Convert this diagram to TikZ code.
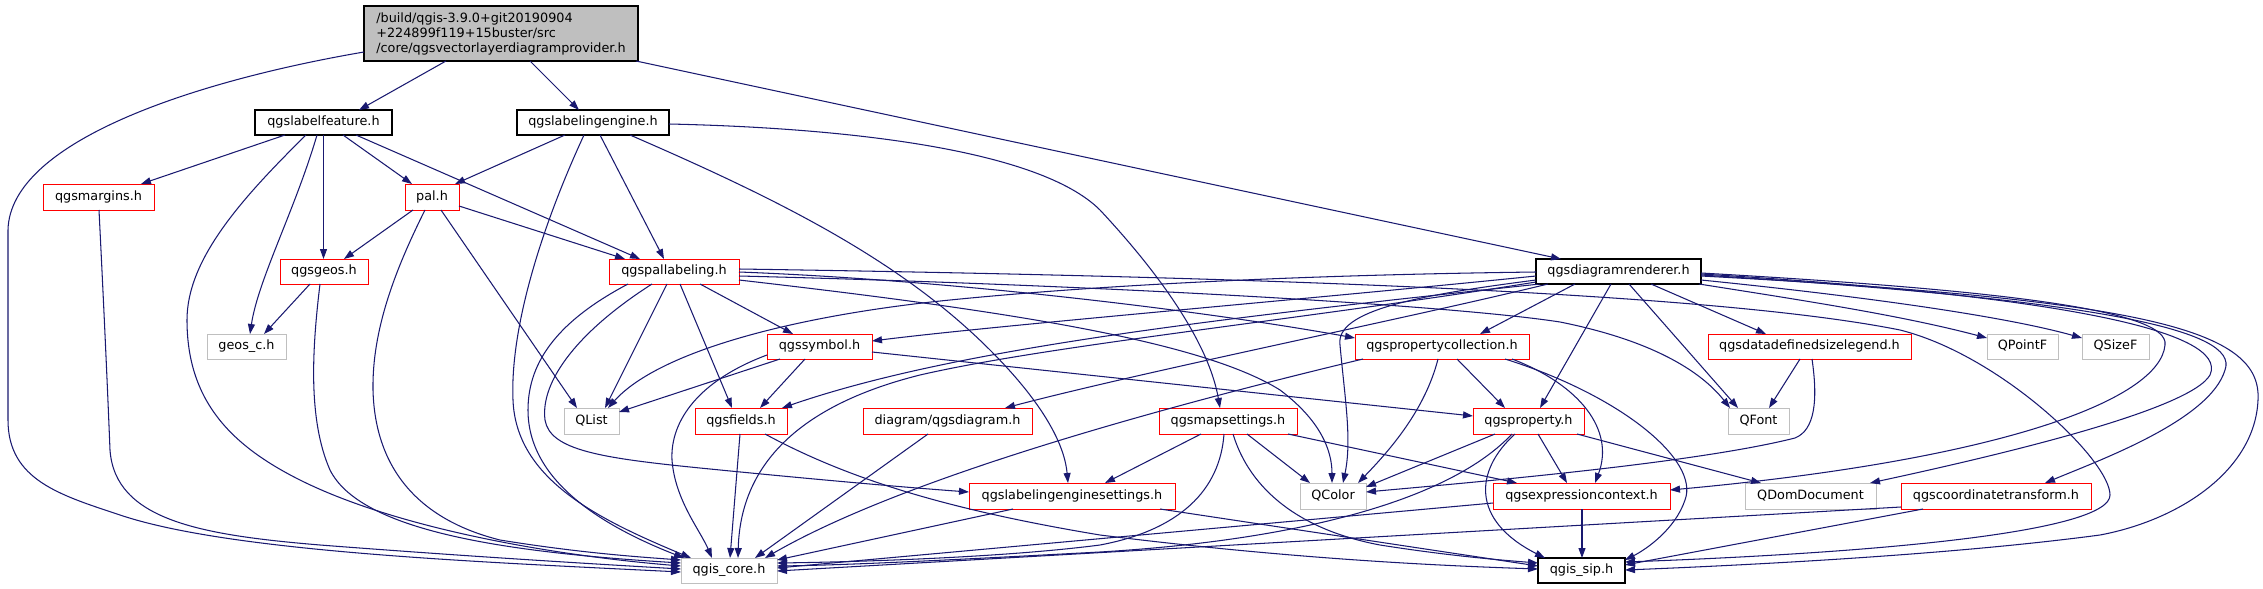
\documentclass[tikz,border=0pt]{standalone}
\usepackage{fontspec}
\setmainfont{DejaVu Sans}
\usetikzlibrary{arrows.meta,calc}
\definecolor{edgec}{HTML}{191970}
\definecolor{grayb}{HTML}{BFBFBF}
\definecolor{redb}{HTML}{FF0000}
\tikzset{
  nb/.style={draw, line width=1pt, anchor=north west, inner sep=0pt, outer sep=0pt,
    font=\fontsize{12.8}{15}\selectfont},
  sl/.style={nb, text height=9.6pt, text depth=2.9pt},
  blk/.style={sl, draw=black, line width=1.4pt},
  redn/.style={sl, draw=redb},
  gry/.style={sl, draw=grayb},
  e/.style={draw=edgec, line width=1.05pt, -{Triangle[length=10pt,width=7pt]}},
}
\begin{document}
\begin{tikzpicture}[x=1pt,y=-1pt]
\fill[white] (0,0) rectangle (2263,589);
\useasboundingbox (0,0) rectangle (2263,589);
% nodes
\node[nb, draw=black, line width=1.4pt, fill=grayb, minimum width=274pt, minimum height=55pt, align=left] (root) at (364,6)
  {/build/qgis-3.9.0+git20190904\\+224899f119+15buster/src\\/core/qgsvectorlayerdiagramprovider.h};
\node[blk, minimum width=137pt, minimum height=25pt] (lf) at (255,110) {qgslabelfeature.h};
\node[blk, minimum width=152pt, minimum height=25pt] (le) at (517,110) {qgslabelingengine.h};
\node[redn, minimum width=111pt, minimum height=26pt] (mg) at (43,184) {qgsmargins.h};
\node[redn, minimum width=54pt, minimum height=26pt] (pal) at (405,184) {pal.h};
\node[redn, minimum width=88pt, minimum height=25pt] (geos) at (280,259) {qgsgeos.h};
\node[redn, minimum width=130pt, minimum height=25pt] (pl) at (609,259) {qgspallabeling.h};
\node[blk, minimum width=165pt, minimum height=25pt] (dr) at (1536,259) {qgsdiagramrenderer.h};
\node[gry, minimum width=79pt, minimum height=25pt] (gc) at (207,334) {geos\_c.h};
\node[redn, minimum width=105pt, minimum height=25pt] (sym) at (767,334) {qgssymbol.h};
\node[redn, minimum width=174pt, minimum height=25pt] (pc) at (1355,334) {qgspropertycollection.h};
\node[redn, minimum width=203pt, minimum height=25pt] (dl) at (1708,334) {qgsdatadefinedsizelegend.h};
\node[gry, minimum width=71pt, minimum height=25pt] (qpf) at (1987,334) {QPointF};
\node[gry, minimum width=67pt, minimum height=25pt] (qsf) at (2082,334) {QSizeF};
\node[gry, minimum width=55pt, minimum height=26pt] (ql) at (564,408) {QList};
\node[redn, minimum width=92pt, minimum height=26pt] (fld) at (695,408) {qgsfields.h};
\node[redn, minimum width=169pt, minimum height=26pt] (dg) at (863,408) {diagram/qgsdiagram.h};
\node[redn, minimum width=138pt, minimum height=26pt] (ms) at (1159,408) {qgsmapsettings.h};
\node[redn, minimum width=111pt, minimum height=26pt] (pr) at (1473,408) {qgsproperty.h};
\node[gry, minimum width=61pt, minimum height=26pt] (qf) at (1728,408) {QFont};
\node[redn, minimum width=206pt, minimum height=26pt] (les) at (969,483) {qgslabelingenginesettings.h};
\node[gry, minimum width=66pt, minimum height=26pt] (qc) at (1300,483) {QColor};
\node[redn, minimum width=177pt, minimum height=26pt] (ec) at (1493,483) {qgsexpressioncontext.h};
\node[gry, minimum width=131pt, minimum height=26pt] (qdd) at (1745,483) {QDomDocument};
\node[redn, minimum width=190pt, minimum height=26pt] (ct) at (1901,483) {qgscoordinatetransform.h};
\node[gry, minimum width=96pt, minimum height=25pt] (core) at (681,558) {qgis\_core.h};
\node[blk, minimum width=87pt, minimum height=25pt] (sip) at (1538,558) {qgis\_sip.h};
% edges
\draw[e] ([shift={(0,46)}]root.north west) .. controls (200,80) and (10,140) .. (8,230) -- (8,420) .. controls (8,480) and (60,495) .. (120,515) .. controls (230,552) and (480,562) .. ([shift={(0,14)}]core.north west);
\draw[e] ([shift={(82,55)}]root.north west) -- ([shift={(104,0)}]lf.north west);
\draw[e] ([shift={(166,55)}]root.north west) -- ([shift={(62,0)}]le.north west);
\draw[e] ([shift={(272,55)}]root.north west) -- ([shift={(25,0)}]dr.north west);
\draw[e] ([shift={(30,25)}]lf.north west) -- ([shift={(98,0)}]mg.north west);
\draw[e] ([shift={(51,25)}]lf.north west) .. controls (240,200) and (187,260) .. (187,320) .. controls (187,400) and (230,445) .. (300,480) .. controls (400,530) and (560,556) .. ([shift={(0,8)}]core.north west);
\draw[e] ([shift={(62,25)}]lf.north west) .. controls (295,210) and (258,280) .. ([shift={(43,0)}]gc.north west);
\draw[e] ([shift={(68.5,25)}]lf.north west) -- ([shift={(43.5,0)}]geos.north west);
\draw[e] ([shift={(88,25)}]lf.north west) -- ([shift={(7,0)}]pal.north west);
\draw[e] ([shift={(101,25)}]lf.north west) -- ([shift={(31,0)}]pl.north west);
\draw[e] ([shift={(48,25)}]le.north west) -- ([shift={(50,0)}]pal.north west);
\draw[e] ([shift={(67,25)}]le.north west) .. controls (540,230) and (510,330) .. (513,400) .. controls (516,480) and (600,520) .. ([shift={(10,0)}]core.north west);
\draw[e] ([shift={(83,25)}]le.north west) -- ([shift={(55,0)}]pl.north west);
\draw[e] ([shift={(113,25)}]le.north west) .. controls (780,200) and (900,260) .. (990,350) .. controls (1050,410) and (1065,450) .. ([shift={(99,0)}]les.north west);
\draw[e] ([shift={(152,14)}]le.north west) .. controls (850,128) and (1040,150) .. (1100,210) .. controls (1170,285) and (1210,350) .. ([shift={(61,0)}]ms.north west);
\draw[e] ([shift={(56,26)}]mg.north west) .. controls (105,330) and (108,400) .. (110,450) .. controls (115,520) and (200,535) .. (320,545) .. controls (450,555) and (560,562) .. ([shift={(0,11)}]core.north west);
\draw[e] ([shift={(8,26)}]pal.north west) -- ([shift={(64,0)}]geos.north west);
\draw[e] ([shift={(20,26)}]pal.north west) .. controls (395,270) and (372,330) .. (373,390) .. controls (375,470) and (420,520) .. (500,540) .. controls (580,553) and (640,557) .. ([shift={(0,2)}]core.north west);
\draw[e] ([shift={(36,26)}]pal.north west) -- ([shift={(13,0)}]ql.north west);
\draw[e] ([shift={(54,22)}]pal.north west) -- ([shift={(16,0)}]pl.north west);
\draw[e] ([shift={(30,25)}]geos.north west) -- ([shift={(57,0)}]gc.north west);
\draw[e] ([shift={(40,25)}]geos.north west) .. controls (312,350) and (308,420) .. (330,470) .. controls (360,530) and (500,552) .. ([shift={(0,5)}]core.north west);
\draw[e] ([shift={(19,25)}]pl.north west) .. controls (560,320) and (528,360) .. (528,410) .. controls (528,480) and (600,525) .. ([shift={(3,0)}]core.north west);
\draw[e] ([shift={(43,25)}]pl.north west) .. controls (580,330) and (540,380) .. (545,420) .. controls (550,450) and (600,458) .. (700,468) .. controls (800,478) and (900,487) .. ([shift={(0,9)}]les.north west);
\draw[e] ([shift={(58,25)}]pl.north west) -- ([shift={(41,0)}]ql.north west);
\draw[e] ([shift={(71,25)}]pl.north west) -- ([shift={(37,0)}]fld.north west);
\draw[e] ([shift={(91,25)}]pl.north west) -- ([shift={(26,0)}]sym.north west);
\draw[e] ([shift={(130,13)}]pl.north west) .. controls (950,280) and (1200,310) .. ([shift={(0,4)}]pc.north west);
\draw[e] ([shift={(130,17)}]pl.north west) .. controls (1100,285) and (1450,305) .. (1560,322) .. controls (1650,340) and (1700,370) .. ([shift={(2,0)}]qf.north west);
\draw[e] ([shift={(130,10)}]pl.north west) .. controls (1200,276) and (1700,290) .. (1900,330) .. controls (2000,355) and (2110,460) .. (2110,495) .. controls (2110,530) and (1900,552) .. ([shift={(87,4)}]sip.north west);
\draw[e] ([shift={(130,21)}]pl.north west) .. controls (1000,310) and (1200,340) .. (1280,390) .. controls (1320,420) and (1332,450) .. ([shift={(32,0)}]qc.north west);
\draw[e] ([shift={(0,13)}]dr.north west) .. controls (1300,275) and (1100,285) .. (950,300) .. controls (800,315) and (660,350) .. ([shift={(44,0)}]ql.north west);
\draw[e] ([shift={(0,17)}]dr.north west) .. controls (1300,300) and (1000,325) .. ([shift={(105,7)}]sym.north west);
\draw[e] ([shift={(4,25)}]dr.north west) .. controls (1200,320) and (950,350) .. ([shift={(87,0)}]fld.north west);
\draw[e] ([shift={(0,23)}]dr.north west) .. controls (1300,320) and (1050,345) .. (920,375) .. controls (780,410) and (740,480) .. ([shift={(57,0)}]core.north west);
\draw[e] ([shift={(12,25)}]dr.north west) .. controls (1400,320) and (1150,370) .. ([shift={(142,0)}]dg.north west);
\draw[e] ([shift={(0,21)}]dr.north west) .. controls (1420,295) and (1335,310) .. (1340,345) .. controls (1345,400) and (1352,440) .. ([shift={(43,0)}]qc.north west);
\draw[e] ([shift={(39,25)}]dr.north west) -- ([shift={(125,0)}]pc.north west);
\draw[e] ([shift={(75,25)}]dr.north west) -- ([shift={(67,0)}]pr.north west);
\draw[e] ([shift={(93,25)}]dr.north west) -- ([shift={(10,0)}]qf.north west);
\draw[e] ([shift={(115,25)}]dr.north west) -- ([shift={(58,0)}]dl.north west);
\draw[e] ([shift={(163,25)}]dr.north west) .. controls (1800,300) and (1900,315) .. ([shift={(0,4)}]qpf.north west);
\draw[e] ([shift={(165,21)}]dr.north west) .. controls (1850,295) and (2000,315) .. ([shift={(0,4)}]qsf.north west);
\draw[e] ([shift={(165,14)}]dr.north west) .. controls (2000,290) and (2170,310) .. (2165,345) .. controls (2160,400) and (2000,460) .. ([shift={(177,7)}]ec.north west);
\draw[e] ([shift={(165,15)}]dr.north west) .. controls (2050,295) and (2230,330) .. (2210,375) .. controls (2190,410) and (2000,455) .. ([shift={(125,0)}]qdd.north west);
\draw[e] ([shift={(165,16)}]dr.north west) .. controls (2100,300) and (2240,330) .. (2225,370) .. controls (2210,420) and (2100,460) .. ([shift={(144,0)}]ct.north west);
\draw[e] ([shift={(165,17)}]dr.north west) .. controls (2150,300) and (2262,330) .. (2258,400) .. controls (2255,470) and (2180,520) .. (2100,535) .. controls (1950,555) and (1750,565) .. ([shift={(87,12)}]sip.north west);
\draw[e] ([shift={(13,25)}]sym.north west) -- ([shift={(55,4)}]ql.north west);
\draw[e] ([shift={(38,25)}]sym.north west) -- ([shift={(65,0)}]fld.north west);
\draw[e] ([shift={(0,21)}]sym.north west) .. controls (700,380) and (670,420) .. (672,460) .. controls (675,500) and (700,530) .. ([shift={(31,0)}]core.north west);
\draw[e] ([shift={(105,18)}]sym.north west) -- ([shift={(0,8)}]pr.north west);
\draw[e] ([shift={(45,26)}]fld.north west) -- ([shift={(49,0)}]core.north west);
\draw[e] ([shift={(70,26)}]fld.north west) .. controls (850,480) and (950,510) .. (1100,535) .. controls (1300,560) and (1450,566) .. ([shift={(0,11)}]sip.north west);
\draw[e] ([shift={(65,26)}]dg.north west) -- ([shift={(74,0)}]core.north west);
\draw[e] ([shift={(42,26)}]ms.north west) -- ([shift={(136,0)}]les.north west);
\draw[e] ([shift={(65,26)}]ms.north west) .. controls (1220,490) and (1180,530) .. (1100,545) .. controls (1000,558) and (850,562) .. ([shift={(96,5)}]core.north west);
\draw[e] ([shift={(88,26)}]ms.north west) -- ([shift={(10,0)}]qc.north west);
\draw[e] ([shift={(74,26)}]ms.north west) .. controls (1250,490) and (1300,530) .. (1380,545) .. controls (1450,556) and (1500,560) .. ([shift={(0,5)}]sip.north west);
\draw[e] ([shift={(129,26)}]ms.north west) -- ([shift={(24,0)}]ec.north west);
\draw[e] ([shift={(8,25)}]pc.north west) .. controls (1150,410) and (900,480) .. ([shift={(84,0)}]core.north west);
\draw[e] ([shift={(83,25)}]pc.north west) .. controls (1425,410) and (1390,450) .. ([shift={(58,0)}]qc.north west);
\draw[e] ([shift={(102,25)}]pc.north west) -- ([shift={(32,0)}]pr.north west);
\draw[e] ([shift={(157,25)}]pc.north west) .. controls (1580,385) and (1615,430) .. ([shift={(102,0)}]ec.north west);
\draw[e] ([shift={(150,25)}]pc.north west) .. controls (1620,395) and (1700,460) .. (1685,500) .. controls (1675,530) and (1645,550) .. ([shift={(87,2)}]sip.north west);
\draw[e] ([shift={(22,26)}]pr.north west) -- ([shift={(66,4)}]qc.north west);
\draw[e] ([shift={(39,26)}]pr.north west) .. controls (1450,500) and (1300,540) .. (1100,552) .. controls (950,560) and (850,565) .. ([shift={(96,8)}]core.north west);
\draw[e] ([shift={(65,26)}]pr.north west) -- ([shift={(74,0)}]ec.north west);
\draw[e] ([shift={(42,26)}]pr.north west) .. controls (1475,470) and (1470,520) .. ([shift={(7,0)}]sip.north west);
\draw[e] ([shift={(104,26)}]pr.north west) -- ([shift={(16,0)}]qdd.north west);
\draw[e] ([shift={(92,25)}]dl.north west) -- ([shift={(41,0)}]qf.north west);
\draw[e] ([shift={(104,25)}]dl.north west) .. controls (1818,400) and (1815,430) .. (1795,438) .. controls (1700,462) and (1500,480) .. ([shift={(66,9)}]qc.north west);
\draw[e] ([shift={(89,26)}]ec.north west) -- ([shift={(44,0)}]sip.north west);
\draw[e] ([shift={(0,20)}]ec.north west) -- ([shift={(96,10)}]core.north west);
\draw[e] ([shift={(0,24)}]ct.north west) -- ([shift={(96,13)}]core.north west);
\draw[e] ([shift={(22,26)}]ct.north west) -- ([shift={(87,7)}]sip.north west);
\draw[e] ([shift={(44,26)}]les.north west) -- ([shift={(96,2)}]core.north west);
\draw[e] ([shift={(191,26)}]les.north west) -- ([shift={(0,8)}]sip.north west);
\end{tikzpicture}
\end{document}
